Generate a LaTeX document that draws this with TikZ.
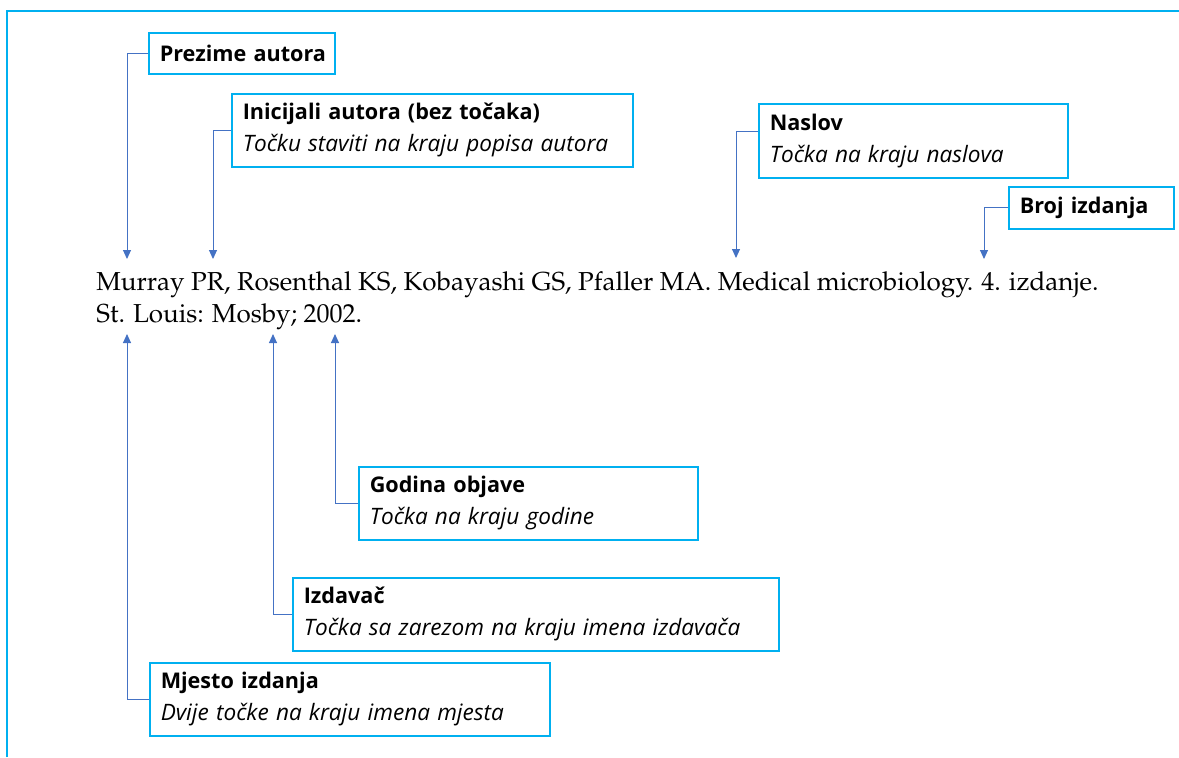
\documentclass[tikz,border=0pt]{standalone}
\usepackage[T1]{fontenc}
\usepackage{fontspec}
\newfontfamily\labfont{Open Sans}
\usetikzlibrary{positioning,arrows.meta}
\definecolor{boxblue}{RGB}{0,176,240}
\definecolor{arrblue}{RGB}{68,114,196}
\newcommand\labnote[1]{{\itshape\fontsize{11.3}{16}\selectfont #1}}

\begin{document}
\begin{tikzpicture}[x=0.5pt,y=-0.5pt,
    lab/.style={draw=boxblue, line width=0.75pt, anchor=north west,
        align=left, inner xsep=5.5pt, inner ysep=0pt,
        font=\labfont\fontsize{10.8}{16}\selectfont},
    cite/.style={anchor=north west, inner sep=0pt, align=left,
        font=\fontencoding{T1}\fontfamily{ppl}\fontsize{13}{16.35}\selectfont},
    ptr/.style={draw=arrblue, line width=0.5pt,
        -{Triangle[length=4.5pt,width=4pt]}}]
    \useasboundingbox (0,0) rectangle (1179,757);
    \draw[boxblue, line width=0.6pt] (7,757) -- (7,11) -- (1179,11);

    \node[cite] (ref) at (96,271)
        {Murray PR, Rosenthal KS, Kobayashi GS, Pfaller MA. Medical microbiology. 4. izdanje.\\
         St. Louis: Mosby; 2002.};

    \node[lab, text width=82pt, minimum height=20.5pt] (prez) at (148,32)
        {\mbox{\textbf{Prezime autora}}};
    \node[lab, text width=189.5pt, minimum height=36.5pt] (inic) at (231,93)
        {\textbf{Inicijali autora (bez točaka)}\\\labnote{Točku staviti na kraju popisa autora}};
    \node[lab, text width=143.5pt, minimum height=37pt] (nasl) at (758,103)
        {\textbf{Naslov}\\\labnote{Točka na kraju naslova}};
    \node[lab, text width=71.5pt, minimum height=21pt] (broj) at (1008,186)
        {\mbox{\textbf{Broj izdanja}}};
    \node[lab, text width=158.5pt, minimum height=36.5pt] (god) at (358,466)
        {\textbf{Godina objave}\\\labnote{Točka na kraju godine}};
    \node[lab, text width=232pt, minimum height=36.5pt] (izd) at (292,577)
        {\textbf{Izdavač}\\\labnote{Točka sa zarezom na kraju imena izdavača}};
    \node[lab, text width=189pt, minimum height=36.5pt] (mje) at (149,662)
        {\textbf{Mjesto izdanja}\\\labnote{Dvije točke na kraju imena mjesta}};

    \coordinate (tPrez) at (127,259);
    \coordinate (tInic) at (213,259);
    \coordinate (tNasl) at (736,258);
    \coordinate (tBroj) at (984,259);
    \coordinate (tMje) at (127,334);
    \coordinate (tIzd) at (273,334);
    \coordinate (tGod) at (335,334);

    \draw[ptr] (prez.west) -| (tPrez);
    \draw[ptr] (inic.west) -| (tInic);
    \draw[ptr] ([yshift=4.5pt]nasl.west) -| (tNasl);
    \draw[ptr] (broj.west) -| (tBroj);
    \draw[ptr] (god.west) -| (tGod);
    \draw[ptr] (izd.west) -| (tIzd);
    \draw[ptr] (mje.west) -| (tMje);
\end{tikzpicture}
\end{document}
